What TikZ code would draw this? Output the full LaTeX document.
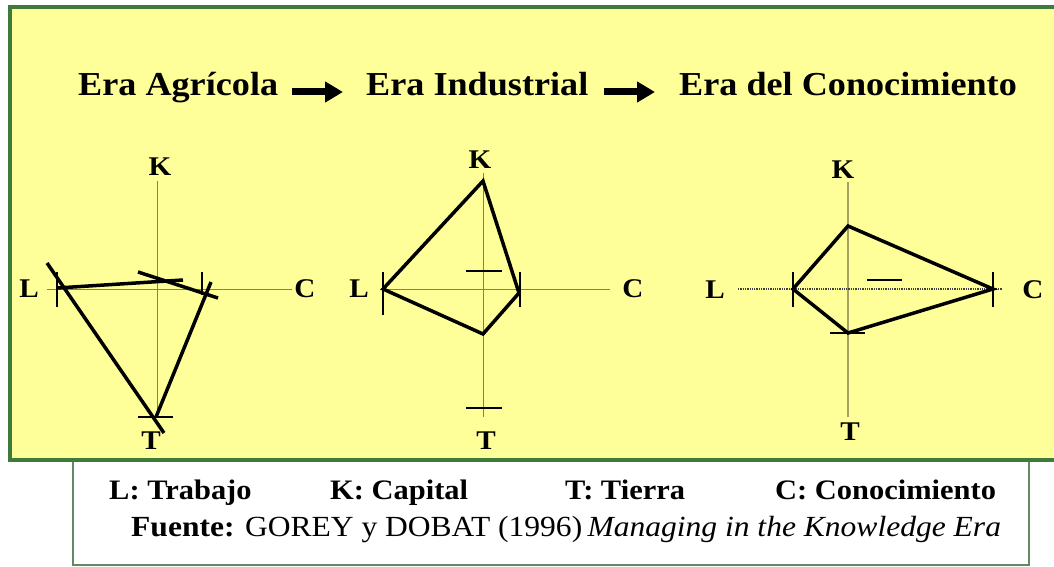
\documentclass[tikz,border=0pt]{standalone}
\usepackage{fontspec}
\setmainfont{Liberation Serif}
\usetikzlibrary{arrows.meta}
\definecolor{bgyellow}{RGB}{255,255,153}
\definecolor{frgreen}{RGB}{62,122,58}
\definecolor{boxgreen}{RGB}{100,135,100}
\definecolor{axisc}{RGB}{130,130,95}
\definecolor{axisc3}{RGB}{165,160,100}
\newcommand{\wide}[1]{\scalebox{1.08}[1]{#1}}
\begin{document}
\begin{tikzpicture}[x=1pt,y=-1pt,
  titletext/.style={anchor=base west, inner sep=0pt, font=\fontsize{33.5}{40}\selectfont\bfseries},
  legendtext/.style={anchor=base west, inner sep=0pt, font=\fontsize{28.2}{33}\selectfont\bfseries},
  sourcetext/.style={anchor=base west, inner sep=0pt, font=\fontsize{29.2}{34}\selectfont},
  axlabel/.style={inner sep=0pt, font=\fontsize{27}{31}\selectfont\bfseries},
  axisline/.style={draw=axisc, line width=1pt},
  tickline/.style={draw=black, line width=1.3pt},
  edgeline/.style={draw=black, line width=3.5pt},
  bigarrow/.style={draw=black, line width=7pt, -{Triangle[length=18pt,width=20pt]}}
]
\useasboundingbox (0,0) rectangle (1054,567);
\fill[white] (0,0) rectangle (1054,567);
% lower source box
\draw[draw=boxgreen, line width=1.6pt, fill=white] (73,455) rectangle (1029,565);
% main yellow panel
\draw[draw=frgreen, line width=4pt, fill=bgyellow] (10,7) rectangle (1060,460);

% titles
\node[titletext] (t1) at (78,96) {\wide{Era Agrícola}};
\node[titletext] (t2) at (366,96) {\wide{Era Industrial}};
\node[titletext] (t3) at (679,96) {\wide{Era del Conocimiento}};
\draw[bigarrow] ([xshift=14pt,yshift=4pt]t1.base east) -- ([xshift=-23pt,yshift=4pt]t2.base west);
\draw[bigarrow] ([xshift=15pt,yshift=4pt]t2.base east) -- ([xshift=-24pt,yshift=4pt]t3.base west);

% ---------- Diagram 1: Era Agricola ----------
\draw[axisline] (157,181) -- (157,417);
\draw[axisline] (47,289) -- (292,289);
\node[axlabel] (k1) at (160,167) {\wide{K}};
\node[axlabel] (l1) at (29,289) {\wide{L}};
\node[axlabel] (c1) at (305,289) {\wide{C}};
\node[axlabel] (tt1) at (151,441) {\wide{T}};
\draw[tickline] (57,272) -- (57,307);
\draw[tickline] (202,272) -- (202,295);
\draw[tickline] (138,417) -- (173,417);
\coordinate (a1s) at (57,288);  \coordinate (a1e) at (183,280);
\coordinate (b1s) at (138,272); \coordinate (b1e) at (218,298);
\coordinate (c1s) at (47,263);  \coordinate (c1e) at (164,433);
\coordinate (d1s) at (156,417); \coordinate (d1e) at (211,282);
\draw[edgeline] (a1s) -- (a1e);
\draw[edgeline] (b1s) -- (b1e);
\draw[edgeline] (c1s) -- (c1e);
\draw[edgeline] (d1s) -- (d1e);

% ---------- Diagram 2: Era Industrial ----------
\draw[axisline] (483,173) -- (483,417);
\draw[axisline] (383,289) -- (610,289);
\node[axlabel] (k2) at (480,160) {\wide{K}};
\node[axlabel] (l2) at (359,289) {\wide{L}};
\node[axlabel] (c2) at (633,289) {\wide{C}};
\node[axlabel] (tt2) at (486,441) {\wide{T}};
\draw[tickline] (383,272) -- (383,315);
\draw[tickline] (520,272) -- (520,307);
\draw[tickline] (466,271) -- (502,271);
\draw[tickline] (466,408) -- (502,408);
\coordinate (L2) at (383,289);
\coordinate (K2) at (483,181);
\coordinate (C2) at (519,293);
\coordinate (B2) at (483,334);
\draw[edgeline] (L2) -- (K2) -- (C2) -- (B2) -- cycle;

% ---------- Diagram 3: Era del Conocimiento ----------
\draw[draw=axisc3, line width=1.4pt] (848,182) -- (848,417);
\draw[draw=black!75, line width=1.3pt, densely dotted] (738,289) -- (1002,289);
\node[axlabel] (k3) at (843,170) {\wide{K}};
\node[axlabel] (l3) at (715,290) {\wide{L}};
\node[axlabel] (c3) at (1033,290) {\wide{C}};
\node[axlabel] (tt3) at (850,432) {\wide{T}};
\draw[tickline] (793,272) -- (793,307);
\draw[tickline] (993,272) -- (993,307);
\draw[tickline] (830,333) -- (865,333);
\draw[tickline] (867,280) -- (902,280);
\coordinate (L3) at (793,289);
\coordinate (K3) at (848,226);
\coordinate (C3) at (993,289);
\coordinate (B3) at (848,333);
\draw[edgeline] (L3) -- (K3) -- (C3) -- (B3) -- cycle;

% ---------- legend ----------
\node[legendtext] (lg1) at (109,499) {\wide{L: Trabajo}};
\node[legendtext] (lg2) at (330,499) {\wide{K: Capital}};
\node[legendtext] (lg3) at (565,499) {\wide{T: Tierra}};
\node[legendtext] (lg4) at (775,499) {\wide{C: Conocimiento}};
\node[sourcetext] (src) at (131,536) {\wide{\textbf{Fuente:} GOREY y DOBAT (1996)\,\textit{Managing in the Knowledge Era}}};
\end{tikzpicture}
\end{document}
